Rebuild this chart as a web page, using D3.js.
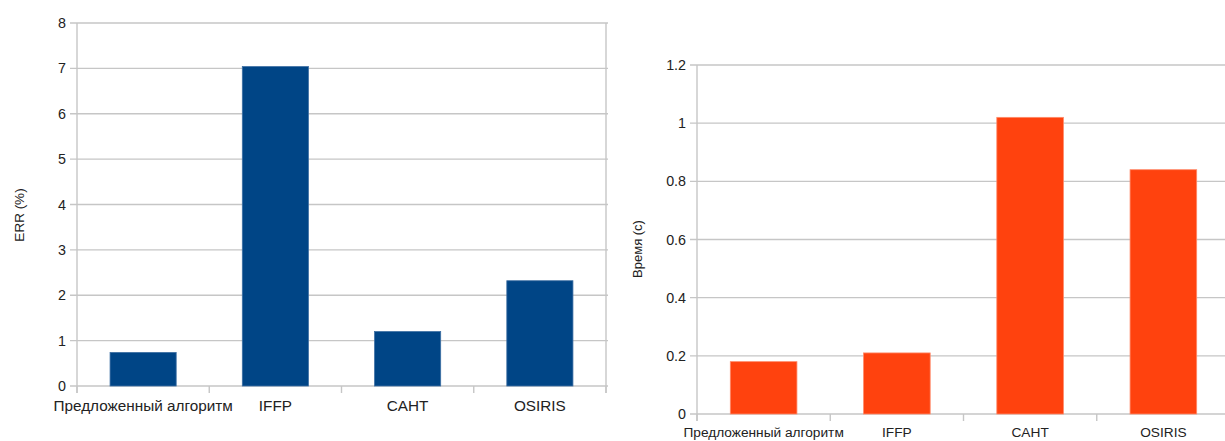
<!DOCTYPE html>
<html>
<head>
<meta charset="utf-8">
<script src="https://cdn.jsdelivr.net/npm/d3@7"></script>
<style>
  html, body { margin: 0; padding: 0; background: #fff; }
  svg { display: block; font-family: "Liberation Sans", Arial, sans-serif; }
</style>
</head>
<body>
<svg id="chart" width="1225" height="441"></svg>
<script>
// Algorithms compared in both panels
const categories = ["Предложенный алгоритм", "IFFP", "CAHT", "OSIRIS"];
// Error rate, %
const errValues = [0.74, 7.04, 1.20, 2.32];
// Processing time, seconds
const timeValues = [0.18, 0.21, 1.02, 0.84];
// Value-axis ticks
const errTicks = [0, 1, 2, 3, 4, 5, 6, 7, 8];
const timeTicks = [0, 0.2, 0.4, 0.6, 0.8, 1, 1.2];

const svg = d3.select("#chart");
const gridColor = "#c6c6c6";

function panel(cfg) {
  const g = svg.append("g");
  const x = d3.scaleBand().domain(categories).range([cfg.left, cfg.right]).padding(0);
  const y = d3.scaleLinear().domain([0, d3.max(cfg.ticks)]).range([cfg.bottom, cfg.top]);

  // horizontal grid lines (extend left as outer ticks)
  g.append("g").selectAll("line").data(cfg.ticks).join("line")
    .attr("x1", cfg.left - 7).attr("x2", cfg.right + (cfg.border ? 2 : 0))
    .attr("y1", d => y(d)).attr("y2", d => y(d))
    .attr("stroke", gridColor).attr("stroke-width", 1.4);

  // value axis labels
  const yAxis = d3.axisLeft(y).tickValues(cfg.ticks).tickSize(0).tickPadding(11)
    .tickFormat(d => String(d));
  const ya = g.append("g").attr("transform", `translate(${cfg.left},0)`).call(yAxis);
  ya.select(".domain").remove();
  ya.selectAll("text").attr("font-size", 14.3).attr("fill", "#222")
    .attr("font-family", "Liberation Sans, Arial, sans-serif");

  // vertical axis line
  g.append("line").attr("x1", cfg.left).attr("x2", cfg.left)
    .attr("y1", cfg.top).attr("y2", cfg.bottom + 7)
    .attr("stroke", gridColor).attr("stroke-width", 1.4);
  if (cfg.border) {
    g.append("line").attr("x1", cfg.right).attr("x2", cfg.right)
      .attr("y1", cfg.top).attr("y2", cfg.bottom + 7)
      .attr("stroke", gridColor).attr("stroke-width", 1.4);
  }

  // category boundary ticks below the baseline
  const bounds = categories.map(c => x(c)).concat([cfg.right]);
  g.append("g").selectAll("line").data(bounds).join("line")
    .attr("x1", d => d).attr("x2", d => d)
    .attr("y1", cfg.bottom).attr("y2", cfg.bottom + 7)
    .attr("stroke", gridColor).attr("stroke-width", 1.4);

  // bars
  const bw = x.bandwidth() / 2;
  g.append("g").selectAll("rect").data(cfg.values).join("rect")
    .attr("x", (d, i) => x(categories[i]) + x.bandwidth() / 4)
    .attr("width", bw)
    .attr("y", d => y(d))
    .attr("height", d => cfg.bottom - y(d))
    .attr("fill", cfg.color)
    .attr("stroke", cfg.edge).attr("stroke-width", 0.8);

  // category labels
  g.append("g").selectAll("text").data(categories).join("text")
    .attr("x", d => x(d) + x.bandwidth() / 2)
    .attr("y", cfg.labelY)
    .attr("text-anchor", "middle")
    .attr("font-size", cfg.catSize)
    .attr("fill", "#222")
    .text(d => d);

  // axis title
  g.append("text")
    .attr("transform", `translate(${cfg.titleX},${cfg.titleY}) rotate(-90)`)
    .attr("text-anchor", "middle")
    .attr("font-size", cfg.titleSize)
    .attr("fill", "#222")
    .text(cfg.title);
}

panel({
  left: 77, right: 606, top: 23, bottom: 386,
  values: errValues, ticks: errTicks, color: "#004586", edge: "#3d6fa3",
  labelY: 411, catSize: 15.3, title: "ERR (%)", titleX: 24, titleY: 215, titleSize: 13.5,
  border: true
});

panel({
  left: 697, right: 1230, top: 65, bottom: 414,
  values: timeValues, ticks: timeTicks, color: "#ff420e", edge: "#ff8a6a",
  labelY: 437, catSize: 13.7, title: "Время (с)", titleX: 642, titleY: 249, titleSize: 13,
  border: false
});
</script>
</body>
</html>
